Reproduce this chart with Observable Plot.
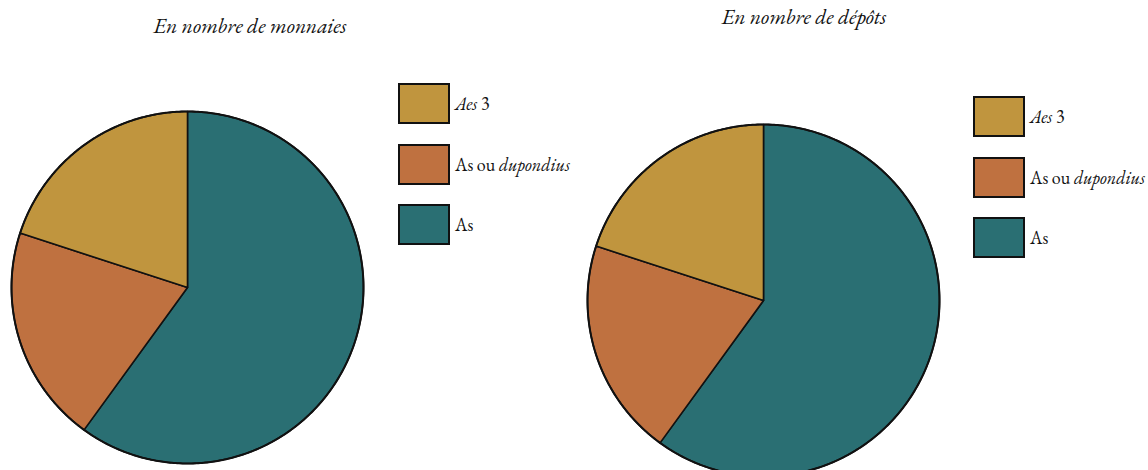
<!DOCTYPE html>
<html>
<head>
<meta charset="utf-8">
<script src="https://cdn.jsdelivr.net/npm/d3@7"></script>
<script src="https://cdn.jsdelivr.net/npm/@observablehq/plot@0.6"></script>
<style>
  html, body { margin: 0; padding: 0; background: #fff; }
  #root { position: relative; width: 1148px; height: 470px; overflow: hidden; color: #111; }
  .title { position: absolute; font-style: italic; font-size: 21.5px; white-space: nowrap; transform: translateX(-50%); line-height: 1; }
  .pie { position: absolute; }
  .legend { position: absolute; }
  .item { display: flex; align-items: center; height: 41px; margin-bottom: 19.5px; }
  .sw { width: 48px; height: 37px; border: 2px solid #111; box-sizing: content-box; }
  .lab { margin-left: 5px; font-size: 18px; white-space: nowrap; }
</style>
</head>
<body>
<div id="root"></div>
<script>
// ---- data ----
const categories = ["As", "As ou dupondius", "Aes 3"];
const monnaies = [60, 20, 20];
const depots = [60, 20, 20];
const colors = ["#2A6F73", "#BF7140", "#C0953E"];
const titles = ["En nombre de monnaies", "En nombre de dépôts"];
const legendLabels = { "Aes 3": "<i>Aes</i> 3", "As ou dupondius": "As ou <i>dupondius</i>", "As": "As" };

const SERIF = "'EB Garamond', 'Garamond', 'URW Bookman', 'P052', 'C059', 'Liberation Serif', serif";
const root = document.getElementById("root");

function wedges(values) {
  const arcs = d3.pie().sort(null).value(d => d)(values);
  return arcs.map((a, i) => {
    const n = Math.max(2, Math.ceil((a.endAngle - a.startAngle) / 0.01));
    const pts = [[0, 0]];
    for (let k = 0; k <= n; k++) {
      const t = a.startAngle + (a.endAngle - a.startAngle) * k / n;
      pts.push([Math.sin(t), -Math.cos(t)]);
    }
    pts.push([0, 0]);
    return { type: "Feature", properties: { category: categories[i] }, geometry: { type: "Polygon", coordinates: [pts] } };
  });
}

function outline() {
  const pts = d3.range(0, 629).map(k => [Math.sin(k / 100), -Math.cos(k / 100)]);
  pts.push(pts[0]);
  return { type: "Feature", properties: {}, geometry: { type: "Polygon", coordinates: [pts] } };
}

function pie(values) {
  const circle = outline();
  return Plot.plot({
    width: 356, height: 356, margin: 2,
    projection: { type: "identity", domain: circle },
    color: { domain: categories, range: colors },
    marks: [
      Plot.geo(wedges(values), { fill: d => d.properties.category, stroke: "#111", strokeWidth: 1.6, strokeLinejoin: "round" }),
      Plot.geo([circle], { fill: "none", stroke: "#111", strokeWidth: 2 })
    ]
  });
}

function place(el, left, top) { el.style.left = left + "px"; el.style.top = top + "px"; root.appendChild(el); return el; }

function legend() {
  const div = document.createElement("div");
  div.className = "legend";
  categories.slice().reverse().forEach(c => {
    const it = document.createElement("div"); it.className = "item";
    const sw = document.createElement("div"); sw.className = "sw"; sw.style.background = colors[categories.indexOf(c)];
    const lab = document.createElement("div"); lab.className = "lab"; lab.innerHTML = legendLabels[c];
    lab.style.fontFamily = SERIF;
    it.appendChild(sw); it.appendChild(lab); div.appendChild(it);
  });
  return div;
}

function title(t) { const d = document.createElement("div"); d.className = "title"; d.style.fontFamily = SERIF; d.textContent = t; return d; }

// left panel
place(title(titles[0]), 250, 15);
const p1 = pie(monnaies); p1.classList.add("pie"); place(p1, 9, 109);
place(legend(), 398, 83);

// right panel
place(title(titles[1]), 804, 6);
const p2 = pie(depots); p2.classList.add("pie"); place(p2, 585, 122);
place(legend(), 973, 96);
</script>
</body>
</html>
